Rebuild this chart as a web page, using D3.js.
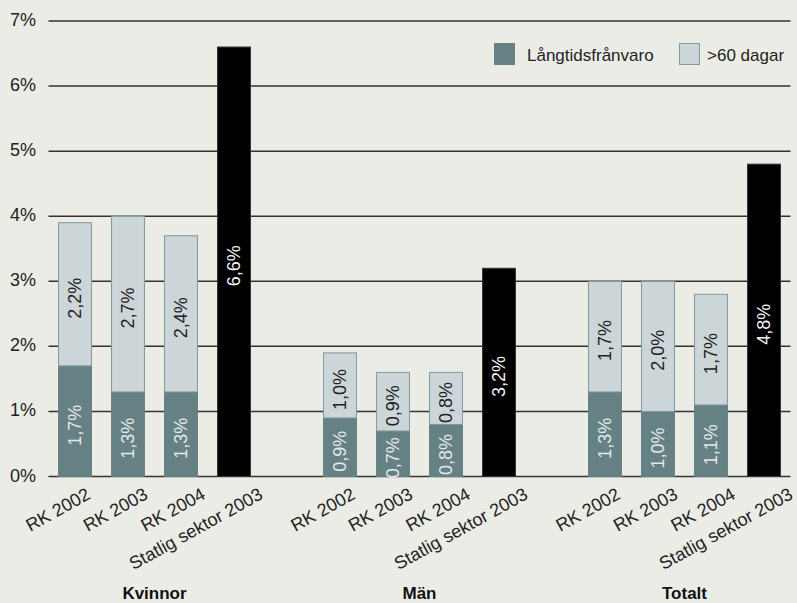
<!DOCTYPE html>
<html>
<head>
<meta charset="utf-8">
<script src="https://cdn.jsdelivr.net/npm/d3@7"></script>
<style>
  html, body { margin: 0; padding: 0; background: #ecece7; }
  text { font-family: "Liberation Sans", Arial, sans-serif; }
</style>
</head>
<body>
<div id="chart"></div>
<script>
const width = 797;
const height = 603;

const groups = ['Kvinnor', 'Män', 'Totalt'];
const categories = ['RK 2002', 'RK 2003', 'RK 2004', 'Statlig sektor 2003'];
// RK-bars: long-term absence (bottom) and >60 days (top), one row per group
const langtid = [[1.7, 1.3, 1.3], [0.9, 0.7, 0.8], [1.3, 1.0, 1.1]];
const over60 = [[2.2, 2.7, 2.4], [1.0, 0.9, 0.8], [1.7, 2.0, 1.7]];
const statlig = [6.6, 3.2, 4.8];
const yTicks = [0, 1, 2, 3, 4, 5, 6, 7];
const legendLabels = ['Långtidsfrånvaro', '>60 dagar'];

const colDark = '#668184';
const colLight = '#ccd5d8';
const colLightStroke = '#809a9e';

const svg = d3.select('#chart').append('svg')
    .attr('width', width)
    .attr('height', height)
    .style('display', 'block');

svg.append('rect').attr('width', width).attr('height', height).attr('fill', '#ecece7');

const x0 = d3.scaleBand()
    .domain(groups)
    .range([48.5, 790.5])
    .paddingInner(0.2)
    .paddingOuter(0);

const x1 = d3.scaleBand()
    .domain(categories)
    .range([0, x0.bandwidth()])
    .paddingInner(0.36)
    .paddingOuter(0.18);

// tick labels sit on a slightly wider spacing than the bars
const xLab = d3.scalePoint()
    .domain(categories)
    .range([43, 43 + 3 * 57.5]);

const y = d3.scaleLinear()
    .domain([0, 7])
    .range([476.5, 21]);

const fmt = v => d3.format('.1f')(v).replace('.', ',') + '%';

// gridlines
svg.append('g').selectAll('line')
    .data(yTicks)
    .join('line')
    .attr('x1', 48.5)
    .attr('x2', 790.5)
    .attr('y1', d => y(d))
    .attr('y2', d => y(d))
    .attr('stroke', '#333')
    .attr('stroke-width', 1.5);

svg.append('g').selectAll('text')
    .data(yTicks)
    .join('text')
    .attr('x', 36)
    .attr('y', d => y(d) + 5)
    .attr('text-anchor', 'end')
    .attr('font-size', 18)
    .attr('fill', '#222')
    .text(d => d + '%');

// build segments
const segments = [];
groups.forEach((g, gi) => {
    categories.forEach((c, ci) => {
        const xp = x0(g) + x1(c);
        if (ci < 3) {
            const a = langtid[gi][ci];
            const b = over60[gi][ci];
            segments.push({ x: xp, y0: 0, y1: a, v: a, fill: colDark, stroke: colDark, tc: '#e3e9ea' });
            segments.push({ x: xp, y0: a, y1: a + b, v: b, fill: colLight, stroke: colLightStroke, tc: '#222' });
        } else {
            const s = statlig[gi];
            segments.push({ x: xp, y0: 0, y1: s, v: s, fill: '#000', stroke: '#333', tc: '#f2f2f2' });
        }
    });
});

const bars = svg.append('g');
bars.selectAll('rect')
    .data(segments)
    .join('rect')
    .attr('x', d => d.x + 0.5)
    .attr('y', d => y(d.y1))
    .attr('width', x1.bandwidth() - 1)
    .attr('height', d => y(d.y0) - y(d.y1))
    .attr('fill', d => d.fill)
    .attr('stroke', d => d.stroke)
    .attr('stroke-width', 1);

bars.selectAll('text')
    .data(segments)
    .join('text')
    .attr('transform', d => `translate(${d.x + x1.bandwidth() / 2},${(y(d.y0) + y(d.y1)) / 2 + 4}) rotate(-90)`)
    .attr('text-anchor', 'middle')
    .attr('dominant-baseline', 'central')
    .attr('font-size', 18)
    .attr('fill', d => d.tc)
    .text(d => fmt(d.v));

// category tick labels
const ticks = svg.append('g');
groups.forEach(g => {
    ticks.selectAll(null)
        .data(categories)
        .join('text')
        .attr('transform', c => `translate(${x0(g) + xLab(c)},498) rotate(-29)`)
        .attr('text-anchor', 'end')
        .attr('font-size', 18)
        .attr('fill', '#222')
        .text(c => c);
});

svg.append('g').selectAll('text')
    .data(groups)
    .join('text')
    .attr('x', g => x0(g) + x0.bandwidth() / 2)
    .attr('y', 599)
    .attr('text-anchor', 'middle')
    .attr('font-size', 17)
    .attr('font-weight', 'bold')
    .attr('fill', '#111')
    .text(g => g);

// legend
const legendX = [494, 679];
const legend = svg.append('g').selectAll('g')
    .data(legendLabels)
    .join('g')
    .attr('transform', (d, i) => `translate(${legendX[i]},43)`);

legend.append('rect')
    .attr('x', 0.5)
    .attr('y', 0.5)
    .attr('width', 20)
    .attr('height', 21)
    .attr('fill', (d, i) => i === 0 ? colDark : colLight)
    .attr('stroke', (d, i) => i === 0 ? colDark : colLightStroke);

legend.append('text')
    .attr('x', (d, i) => i === 0 ? 33 : 28)
    .attr('y', 18)
    .attr('font-size', 17)
    .attr('fill', '#222')
    .text(d => d);
</script>
</body>
</html>
